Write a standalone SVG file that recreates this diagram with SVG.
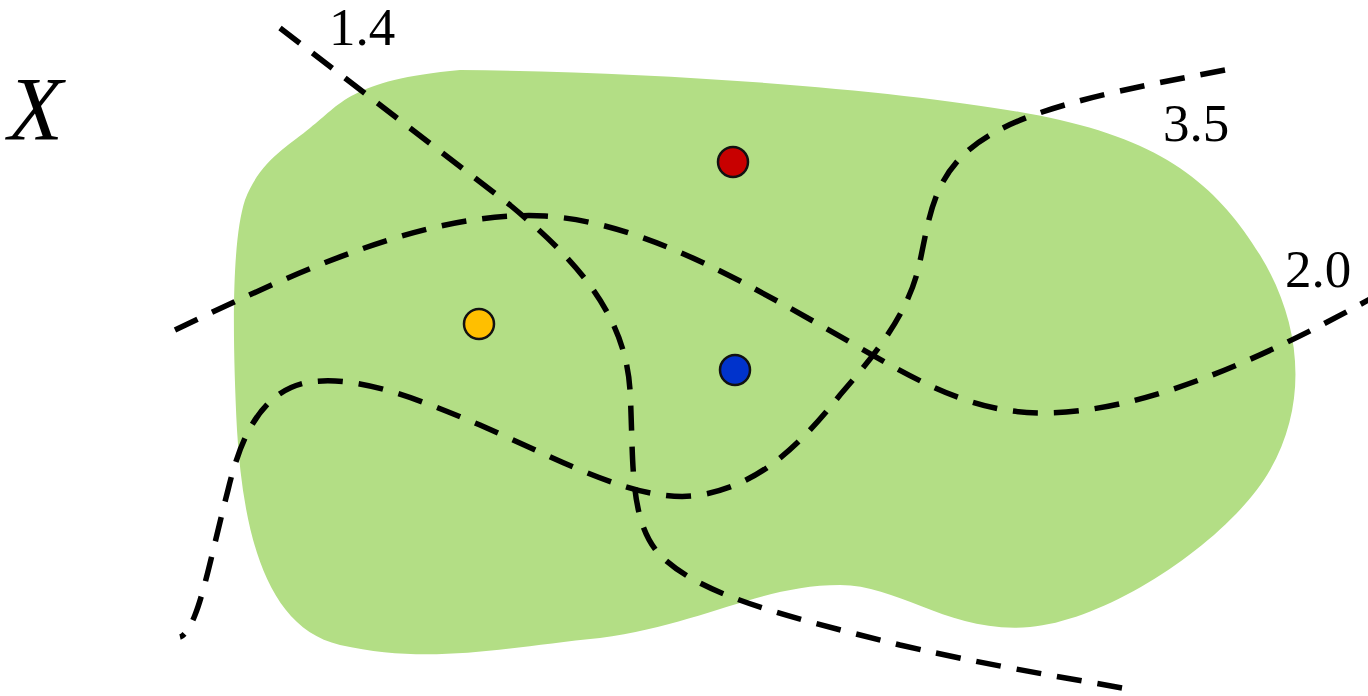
<svg xmlns="http://www.w3.org/2000/svg" width="1368" height="696" viewBox="0 0 1368 696">
<style>
.lbl{font-family:"Liberation Serif","DejaVu Serif",serif;font-size:53px;fill:#000}
.curve{fill:none;stroke:#000;stroke-width:5.5;stroke-dasharray:25 16}
.dot{stroke:#111;stroke-width:2.5}
</style>
<rect width="1368" height="696" fill="#fff"/>
<g id="region">
<path d="M 460,70 C 700,72 950,95 1060,120 C 1170,145 1220,190 1260,255 C 1300,320 1310,400 1270,470 C 1230,540 1110,620 1030,627 C 950,634 900,585 840,585 C 760,585 700,625 600,638 C 500,648 430,665 340,645 C 265,628 243,530 237,430 C 232,330 232,240 245,200 C 260,160 290,145 310,128 C 340,105 350,80 460,70 Z" fill="#b3de85"/>
</g>
<g id="connectors">
<path id="c14" class="curve" d="M 280,28 L 510,205 C 570,255 625,310 630,390 C 634,460 628,520 660,555 C 700,595 780,615 900,645 C 1000,668 1080,680 1133,690"/>
<path id="c35" class="curve" d="M 1225,70 C 1130,88 1040,105 990,135 C 930,170 930,220 918,270 C 905,320 870,360 840,395 C 800,445 760,485 700,495 C 640,505 560,460 480,425 C 420,400 360,375 310,382 C 260,390 240,440 228,490 C 215,540 205,590 195,615 C 190,628 184,636 180,637"/>
<path id="c20" class="curve" d="M 175,330 C 300,270 430,210 545,216 C 640,222 740,280 820,325 C 900,370 960,412 1040,413 C 1140,414 1260,360 1372,298"/>
</g>
<g id="dot-red"><circle class="dot" cx="733" cy="162" r="15" fill="#c80000"/></g>
<g id="dot-yellow"><circle class="dot" cx="479" cy="324" r="15" fill="#ffbf00"/></g>
<g id="dot-blue"><circle class="dot" cx="735" cy="370" r="15" fill="#0033cc"/></g>
<g id="labels">
<text x="8" y="140" font-family="Liberation Serif, DejaVu Serif, serif" font-style="italic" font-size="90">X</text>
<text class="lbl" x="329" y="45">1.4</text>
<text class="lbl" x="1163" y="141">3.5</text>
<text class="lbl" x="1285" y="287">2.0</text>
</g>
</svg>
